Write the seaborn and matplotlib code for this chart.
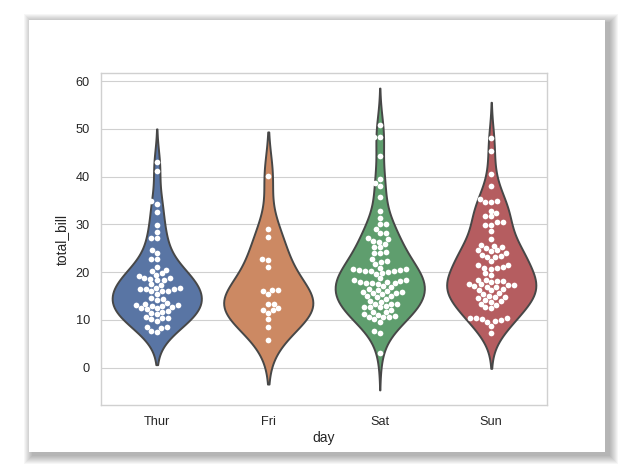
import numpy as np
import pandas as pd
import seaborn as sns
import matplotlib
matplotlib.use("Agg")
import matplotlib.pyplot as plt
from matplotlib.patches import Rectangle

# total_bill per day (tips data)
days = ["Thur", "Fri", "Sat", "Sun"]

thur_bill = [27.20, 22.76, 17.29, 19.44, 16.66, 10.07, 32.68, 15.98, 34.83, 13.03, 18.28, 24.71, 21.16,
             10.65, 12.43, 24.08, 11.69, 13.42, 14.26, 15.95, 12.48, 29.80, 8.52, 14.52, 11.38, 22.82,
             19.08, 20.27, 11.17, 12.26, 18.26, 8.51, 10.33, 14.15, 16.00, 13.16, 17.47, 34.30, 41.19,
             27.05, 16.43, 8.35, 18.64, 11.87, 9.78, 7.51,
             19.81, 28.44, 15.48, 16.58, 7.56, 10.34, 43.11, 13.00, 13.51, 18.71, 12.74, 13.00, 16.40,
             20.53, 16.47, 18.78]

fri_bill = [28.97, 22.49, 5.75, 16.32, 22.75, 40.17, 27.28, 12.03, 21.01, 12.46, 11.35, 15.38,
            12.16, 13.42, 8.58, 15.98, 13.42, 16.27, 10.09]

sat_bill = [20.65, 17.92, 20.29, 15.77, 39.42, 19.82, 17.81, 13.37, 12.69, 21.70, 19.65, 9.55, 18.35,
            15.06, 20.69, 17.78, 24.06, 16.31, 16.93, 18.69, 31.27, 16.04,
            38.01, 26.41, 11.24, 48.27, 20.29, 13.81, 11.02, 18.29, 17.59, 20.08, 16.45, 3.07, 20.23,
            15.01, 12.02, 17.07, 26.86, 25.28, 14.73, 10.51, 17.92,
            44.30, 22.42, 20.92, 15.36, 20.49, 25.21, 18.24, 14.31, 14.00, 7.25,
            10.59, 10.63, 50.81, 15.81,
            26.59, 38.73, 24.27, 12.76, 30.06, 25.89, 48.33, 13.27, 28.17, 12.90, 28.15, 11.59, 7.74, 30.14,
            20.45, 13.28, 22.12, 24.01, 15.69, 11.61, 10.77, 15.53, 10.07, 12.60, 32.83, 35.83, 29.03,
            27.18, 22.67, 17.82]

sun_bill = [16.99, 10.34, 21.01, 23.68, 24.59, 25.29, 8.77, 26.88, 15.04, 14.78, 10.27, 35.26, 15.42,
            18.43, 14.83, 21.58, 10.33, 16.29, 16.97,
            17.46, 13.94, 9.68, 30.40, 18.29, 22.23, 32.40, 28.55, 18.04, 12.54, 10.29, 34.81, 9.94,
            25.56, 19.49,
            38.07, 23.95, 25.71, 17.31, 29.93,
            14.07, 13.13, 17.26, 24.55, 19.77, 29.85, 48.17, 25.00, 13.39, 16.49, 21.50, 12.66, 16.21,
            13.81, 17.51, 24.52, 20.76, 31.71,
            7.25, 31.85, 16.82, 32.90, 17.89, 14.48, 9.60, 34.63, 34.65, 23.33, 45.35, 23.17, 40.55,
            20.69, 20.90, 30.46, 18.15, 23.10, 15.69]

bills = {"Thur": thur_bill, "Fri": fri_bill, "Sat": sat_bill, "Sun": sun_bill}
df = pd.DataFrame([(d, b) for d in days for b in bills[d]], columns=["day", "total_bill"])

sns.set_theme(style="whitegrid", palette="deep")
plt.rcParams["font.family"] = ["Liberation Sans", "DejaVu Sans"]
plt.rcParams["axes.edgecolor"] = "#d0d0d0"
plt.rcParams["grid.color"] = "#d0d0d0"
plt.rcParams["axes.linewidth"] = 1.0
plt.rcParams["grid.linewidth"] = 0.8

W, H = 634, 475
fig = plt.figure(figsize=(W / 100, H / 100), dpi=100, facecolor="white")

# card with a soft drop shadow (screenshot frame)
cl, cr, ct, cb = 29, 605, 20, 452
for i in range(9, 0, -1):
    fig.patches.append(Rectangle(((cl - i + 4) / W, 1 - (cb + i + 3) / H),
                                 (cr - cl + 2 * i) / W, (cb - ct + 2 * i) / H,
                                 transform=fig.transFigure, facecolor="black",
                                 edgecolor="none", alpha=0.035, zorder=-10))
fig.patches.append(Rectangle((cl / W, 1 - cb / H), (cr - cl) / W, (cb - ct) / H,
                             transform=fig.transFigure, facecolor="white",
                             edgecolor="none", zorder=-5))

ax = fig.add_axes([101 / W, 1 - 405 / H, (547 - 101) / W, (405 - 73) / H])

sns.violinplot(data=df, x="day", y="total_bill", hue="day", order=days, hue_order=days,
               inner=None, saturation=0.75, linewidth=1.4, linecolor="#474747",
               legend=False, ax=ax)
sns.swarmplot(data=df, x="day", y="total_bill", order=days, color="white",
              size=4.1, ax=ax)

ax.set_yticks([0, 10, 20, 30, 40, 50, 60])
ax.tick_params(axis="both", length=0, labelsize=9.2, labelcolor="#262626")
ax.tick_params(axis="y", pad=8)
ax.tick_params(axis="x", pad=8)
ax.set_xlabel("day", fontsize=10, color="#262626", labelpad=2)
ax.set_ylabel("total_bill", fontsize=10, color="#262626", labelpad=5)
ax.xaxis.grid(False)

fig.savefig("out.png", dpi=100, facecolor="white")
